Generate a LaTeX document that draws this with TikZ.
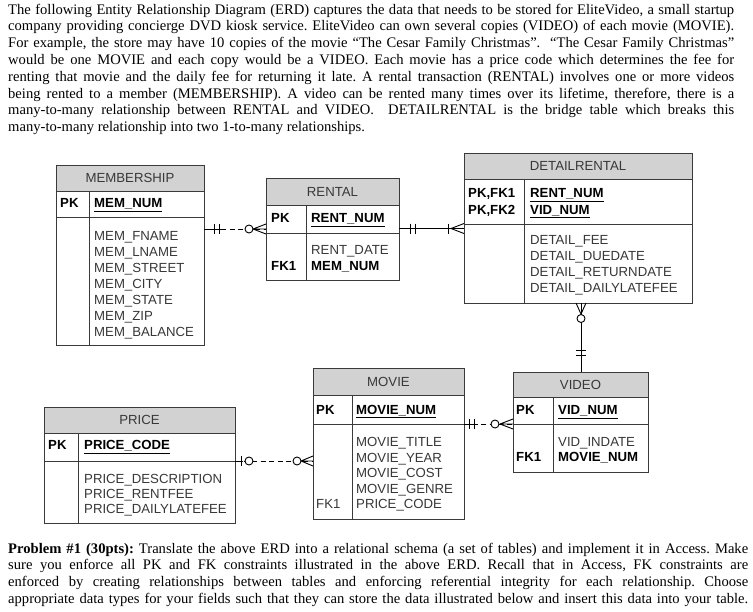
\documentclass[tikz,border=0pt]{standalone}
\usepackage{fontspec}
\setmainfont{Liberation Serif}
\newfontfamily\erdsans{Liberation Sans}
\usetikzlibrary{calc}
\definecolor{erdline}{HTML}{3A3A3A}
\definecolor{erdhead}{HTML}{D2D2D2}
\definecolor{erdtext}{HTML}{383838}
\newcommand{\erdsize}[1]{\erdsans\fontsize{13.2}{#1}\selectfont}
\hyphenpenalty=10000
\exhyphenpenalty=10000

\begin{document}
\begin{tikzpicture}[x=1pt, y=-1pt,
    prose/.style={anchor=base west, inner sep=0pt, align=justify, font=\fontsize{14.6}{16.8}\selectfont\frenchspacing},
    tabrow/.style={rectangle, draw=erdline, line width=0.9pt, fill=white, anchor=north west, inner sep=0pt, outer sep=0pt, minimum width=#1},
    tabhead/.style={tabrow=#1, fill=erdhead, text=erdtext, font=\erdsize{16}, minimum height=26pt},
    field/.style={anchor=base west, inner sep=0pt, align=left, text=erdtext, font=\erdsize{15.9}},
    key/.style={field, text=black, font=\erdsize{16.5}\bfseries},
    rel/.style={draw=black, line width=0.9pt},
    nonid/.style={rel, dash pattern=on 5pt off 3.5pt},
    opt/.style={rel, fill=white},
    divider/.style={draw=erdline, line width=0.9pt},
]
    \fill[white] (0,0) rectangle (753,611);
    \useasboundingbox (0,0) rectangle (753,611);

    % the assignment text
    \node[prose, text width=726pt] (intro) at (8,14) {The following Entity Relationship Diagram (ERD) captures the data that needs to be stored for EliteVideo, a small startup\linebreak
    company providing concierge DVD kiosk service. EliteVideo can own several copies (VIDEO) of each movie (MOVIE).\linebreak
    For example, the store may have 10 copies of the movie “The Cesar Family Christmas”.\ \ “The Cesar Family Christmas”\linebreak
    would be one MOVIE and each copy would be a VIDEO. Each movie has a price code which determines the fee for\linebreak
    renting that movie and the daily fee for returning it late. A rental transaction (RENTAL) involves one or more videos\linebreak
    being rented to a member (MEMBERSHIP). A video can be rented many times over its lifetime, therefore, there is a\linebreak
    many-to-many relationship between RENTAL and VIDEO.\ \ DETAILRENTAL is the bridge table which breaks this\linebreak
    many-to-many relationship into two 1-to-many relationships.};
    \node[prose, text width=740pt] (task) at (8,553) {\parfillskip=0pt \textbf{Problem \#1 (30pts):} Translate the above ERD into a relational schema (a set of tables) and implement it in Access. Make\linebreak
    sure you enforce all PK and FK constraints illustrated in the above ERD. Recall that in Access, FK constraints are\linebreak
    enforced by creating relationships between tables and enforcing referential integrity for each relationship. Choose\linebreak
    appropriate data types for your fields such that they can store the data illustrated below and insert this data into your table.\par};

    % MEMBERSHIP
    \node[tabhead=148pt] (mem) at (56,165) {MEMBERSHIP};
    \node[tabrow=148pt, minimum height=26.5pt] (memk) at (mem.south west) {};
    \node[tabrow=148pt, minimum height=127.5pt] (memb) at (memk.south west) {};
    \draw[divider] ($(memk.north west)+(33,0)$) -- ($(memb.south west)+(33,0)$);
    \node[key] (mempk) at (60,207.7) {PK};
    \node[key] (memid) at (94,207.7) {\underline{MEM\_NUM}};
    \node[field] (memat) at (94,336.1) {MEM\_FNAME\\MEM\_LNAME\\MEM\_STREET\\MEM\_CITY\\MEM\_STATE\\MEM\_ZIP\\MEM\_BALANCE};

    % RENTAL
    \node[tabhead=133pt, minimum height=27pt] (rent) at (266,178) {RENTAL};
    \node[tabrow=133pt, minimum height=28pt] (rentk) at (rent.south west) {};
    \node[tabrow=133pt, minimum height=47pt] (rentb) at (rentk.south west) {};
    \draw[divider] ($(rentk.north west)+(40,0)$) -- ($(rentb.south west)+(40,0)$);
    \node[key] (rentpk) at (271,222.7) {PK};
    \node[key] (rentid) at (311,222.7) {\underline{RENT\_NUM}};
    \node[field] (rentat) at (311,254.7) {RENT\_DATE};
    \node[key] (rentfkl) at (271,270.7) {FK1};
    \node[key] (rentfk) at (311,270.7) {MEM\_NUM};

    % DETAILRENTAL
    \node[tabhead=228pt] (det) at (464,153) {DETAILRENTAL};
    \node[tabrow=228pt, minimum height=45pt] (detk) at (det.south west) {};
    \node[tabrow=228pt, minimum height=79pt] (detb) at (detk.south west) {};
    \draw[divider] ($(detk.north west)+(60,0)$) -- ($(detb.south west)+(60,0)$);
    \node[key] (detpk) at (468,214.2) {PK,FK1\\PK,FK2};
    \node[key] (detid) at (530,214.2) {\underline{RENT\_NUM}\\\underline{VID\_NUM}};
    \node[field] (detat) at (530,292.4) {DETAIL\_FEE\\DETAIL\_DUEDATE\\DETAIL\_RETURNDATE\\DETAIL\_DAILYLATEFEE};

    % VIDEO
    \node[tabhead=135pt, minimum height=25pt] (vid) at (513,372) {VIDEO};
    \node[tabrow=135pt, minimum height=27.5pt] (vidk) at (vid.south west) {};
    \node[tabrow=135pt, minimum height=47.5pt] (vidb) at (vidk.south west) {};
    \draw[divider] ($(vidk.north west)+(40,0)$) -- ($(vidb.south west)+(40,0)$);
    \node[key] (vidpk) at (516,414.7) {PK};
    \node[key] (vidid) at (558,414.7) {\underline{VID\_NUM}};
    \node[field] (vidat) at (558,446.7) {VID\_INDATE};
    \node[key] (vidfkl) at (516,461.7) {FK1};
    \node[key] (vidfk) at (558,461.7) {MOVIE\_NUM};

    % MOVIE
    \node[tabhead=151pt, minimum height=27pt] (mov) at (313,368) {MOVIE};
    \node[tabrow=151pt, minimum height=29pt] (movk) at (mov.south west) {};
    \node[tabrow=151pt, minimum height=95pt] (movb) at (movk.south west) {};
    \draw[divider] ($(movk.north west)+(39,0)$) -- ($(movb.south west)+(39,0)$);
    \node[key] (movpk) at (316,414) {PK};
    \node[key] (movid) at (356,414) {\underline{MOVIE\_NUM}};
    \node[field, font=\erdsize{15.5}] (movat) at (356,508.5) {MOVIE\_TITLE\\MOVIE\_YEAR\\MOVIE\_COST\\MOVIE\_GENRE\\PRICE\_CODE};
    \node[field] (movfkl) at (316,508.5) {FK1};

    % PRICE
    \node[tabhead=191pt] (price) at (44,407) {PRICE};
    \node[tabrow=191pt, minimum height=28pt] (pricek) at (price.south west) {};
    \node[tabrow=191pt, minimum height=62pt] (priceb) at (pricek.south west) {};
    \draw[divider] ($(pricek.north west)+(34,0)$) -- ($(priceb.south west)+(34,0)$);
    \node[key] (pricepk) at (48,449.7) {PK};
    \node[key] (priceid) at (84,449.7) {\underline{PRICE\_CODE}};
    \node[field, font=\erdsize{14.8}] (priceat) at (84,513.3) {PRICE\_DESCRIPTION\\PRICE\_RENTFEE\\PRICE\_DAILYLATEFEE};

    % MEMBERSHIP -- RENTAL
    \coordinate (mr0) at ($(memk.south east)+(0,11.5)$);
    \coordinate (mr1) at (rentk.west |- mr0);
    \draw[nonid] (mr0) -- (mr1);
    \draw[rel] (mr0) -- ++(17,0) ($(mr0)+(10,-5)$) -- ++(0,10) ($(mr0)+(15,-5)$) -- ++(0,10);
    \draw[opt] ($(mr1)+(-17,0)$) circle (4);
    \draw[rel] ($(mr1)+(-13,0)$) -- (mr1) ($(mr1)+(-13,0)$) -- ($(mr1)+(0,-5)$) ($(mr1)+(-13,0)$) -- ($(mr1)+(0,5)$);

    % RENTAL -- DETAILRENTAL
    \coordinate (rd0) at ($(rentk.south east)+(0,-4.5)$);
    \coordinate (rd1) at (detb.west |- rd0);
    \draw[rel] (rd0) -- (rd1);
    \draw[rel] ($(rd0)+(11,-5)$) -- ++(0,10) ($(rd0)+(16,-5)$) -- ++(0,10) ($(rd1)+(-16,-5)$) -- ++(0,10);
    \draw[rel] ($(rd1)+(-13,0)$) -- ($(rd1)+(0,-5)$) ($(rd1)+(-13,0)$) -- ($(rd1)+(0,5)$);

    % DETAILRENTAL -- VIDEO
    \coordinate (dv0) at ($(detb.south west)+(117,0)$);
    \coordinate (dv1) at (vid.north -| dv0);
    \draw[rel] (dv0) -- (dv1);
    \draw[rel] ($(dv0)+(0,11)$) -- ($(dv0)+(-5,0)$) ($(dv0)+(0,11)$) -- ($(dv0)+(5,0)$);
    \draw[opt] ($(dv0)+(0,15.5)$) circle (4);
    \draw[rel] ($(dv1)+(-5,-22)$) -- ++(10,0) ($(dv1)+(-5,-17)$) -- ++(10,0);

    % MOVIE -- VIDEO
    \coordinate (mv0) at (movk.south east);
    \coordinate (mv1) at (vidb.west |- mv0);
    \draw[nonid] (mv0) -- (mv1);
    \draw[rel] (mv0) -- ++(12,0) ($(mv0)+(5,-5)$) -- ++(0,10) ($(mv0)+(10,-5)$) -- ++(0,10);
    \draw[opt] ($(mv1)+(-18,0)$) circle (4);
    \draw[rel] ($(mv1)+(-13,0)$) -- (mv1) ($(mv1)+(-13,0)$) -- ($(mv1)+(0,-5)$) ($(mv1)+(-13,0)$) -- ($(mv1)+(0,5)$);

    % PRICE -- MOVIE
    \coordinate (pm0) at (pricek.south east);
    \coordinate (pm1) at (movb.west |- pm0);
    \draw[nonid] (pm0) -- (pm1);
    \draw[rel] (pm0) -- ++(8,0) ($(pm0)+(6,-5)$) -- ++(0,10);
    \draw[opt] ($(pm0)+(14,0)$) circle (4);
    \draw[opt] ($(pm1)+(-16,0)$) circle (4);
    \draw[rel] ($(pm1)+(-12,0)$) -- (pm1) ($(pm1)+(-12,0)$) -- ($(pm1)+(0,-5)$) ($(pm1)+(-12,0)$) -- ($(pm1)+(0,5)$);
\end{tikzpicture}
\end{document}
